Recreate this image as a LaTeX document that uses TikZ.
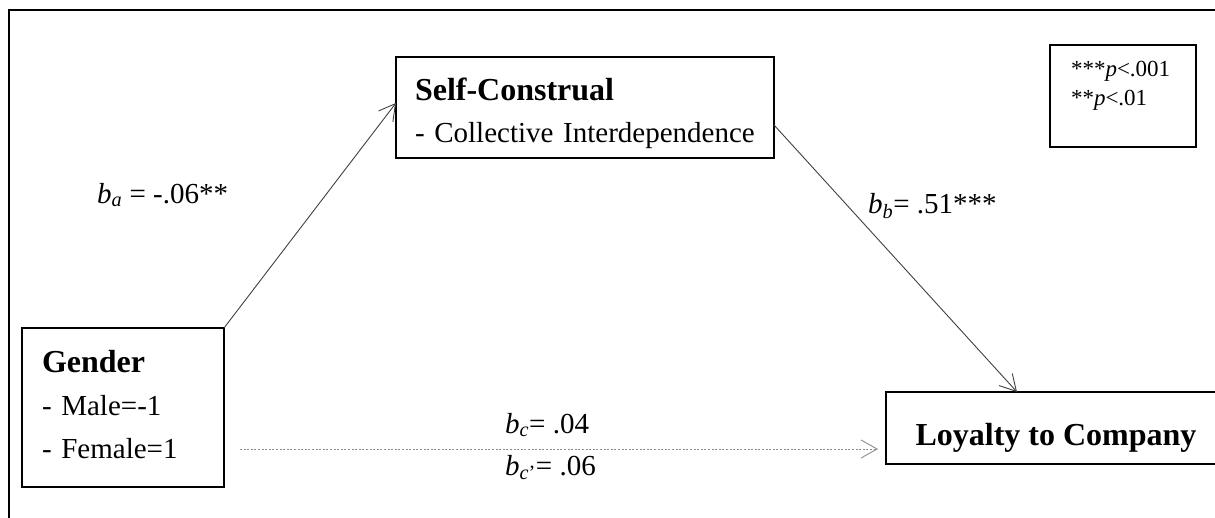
\documentclass[tikz,border=0pt]{standalone}
\usepackage{fontspec}
\setmainfont{Liberation Serif}
\usetikzlibrary{arrows.meta,calc}
\begin{document}
\begin{tikzpicture}[x=1pt,y=-1pt,
  box/.style={draw, line width=2.2pt, rectangle, inner ysep=0pt, outer sep=0pt, anchor=north west, align=left},
  lbl/.style={anchor=base west, inner sep=0pt, font=\fontsize{29}{35}\selectfont},
  conn/.style={draw=black!75, line width=0.9pt, -{Straight Barb[length=16pt,width=18pt]}},
  dotconn/.style={conn, draw=black!45, dash pattern=on 2pt off 1.6pt}
]
\useasboundingbox (0,0) rectangle (1215,517);
\draw[line width=2.2pt] (9,545) -- (9,10) -- (1245,10);

\node[box, minimum width=378pt, minimum height=101pt, inner xsep=19pt, text width=340pt,
      text height=33pt, text depth=48pt, font=\fontsize{29}{42}\selectfont] (sc) at (396,57)
  {{\fontsize{32}{42}\selectfont\bfseries Self-Construal}\\{}- Collective Interdependence};

\node[box, minimum width=202pt, minimum height=159pt, inner xsep=20pt, text width=162pt,
      text height=21pt, text depth=92pt, font=\fontsize{29}{43}\selectfont] (gd) at (22,328)
  {{\fontsize{32}{43}\selectfont\bfseries Gender}\\{}- Male=-1\\{}- Female=1};

\node[box, minimum width=340pt, minimum height=72pt, inner xsep=29pt,
      text height=41pt, text depth=7pt, font=\fontsize{32}{38}\selectfont\bfseries] (ly) at (886,392)
  {Loyalty to Company};

\node[box, minimum width=146pt, minimum height=102pt, inner xsep=21pt, text width=104pt,
      text height=10pt, text depth=50pt, font=\fontsize{23}{29}\selectfont] (lg) at (1050,45)
  {***\textit{p}<.001\\{}**\textit{p}<.01};

\node[lbl] (ba) at (97,203) {\textit{b}\textsubscript{\textit{a}} = -.06**};
\node[lbl] (bb) at (868,213) {\textit{b}\textsubscript{\textit{b}}= .51***};
\node[lbl] (bc) at (505,433) {\textit{b}\textsubscript{\textit{c}}= .04};
\node[lbl] (bcp) at (505,475) {\textit{b}\textsubscript{\textit{c}'}= .06};

\draw[conn] (gd.north east) -- ($(sc.north west)!0.455!(sc.south west)$);
\draw[conn] ($(sc.south east)!0.327!(sc.north east)$) -- ($(ly.north west)+(131,0)$);
\draw[dotconn] ($(gd.south east)+(16,-38)$) -- ($(ly.south west)+(-8,-15)$);
\end{tikzpicture}
\end{document}
